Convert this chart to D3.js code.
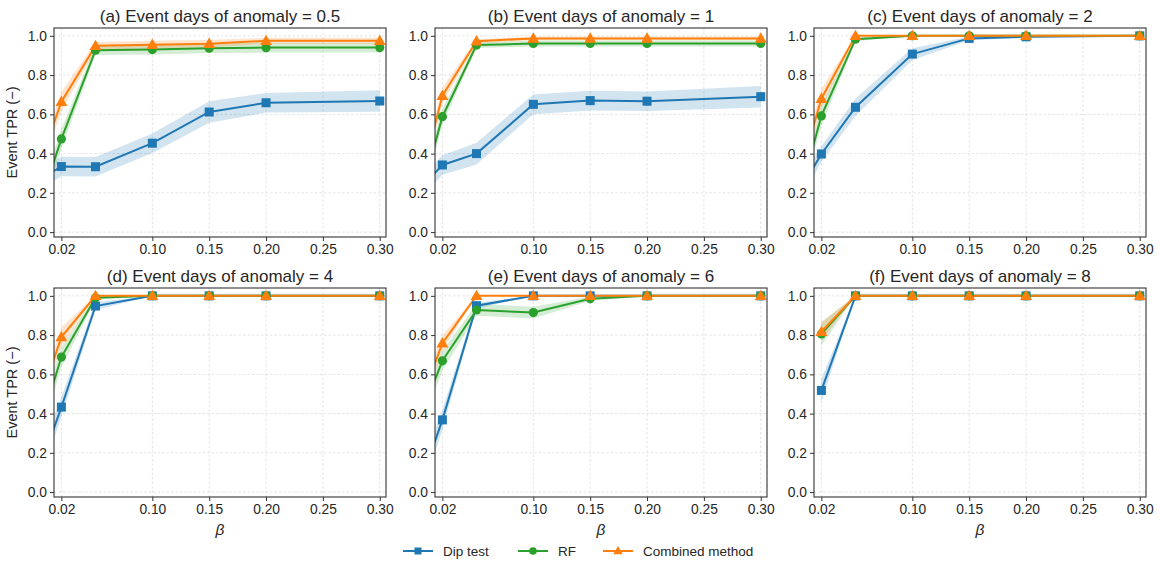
<!DOCTYPE html>
<html>
<head>
<meta charset="utf-8">
<script src="https://cdn.jsdelivr.net/npm/d3@7"></script>
<style>
  body { margin: 0; background: #fff; }
  svg { font-family: "Liberation Sans", Arial, sans-serif; }
</style>
</head>
<body>
<svg id="chart" width="1161" height="570"></svg>
<script>
// beta values (0.01 lies just outside the visible x range)
const betas = [0.01, 0.02, 0.05, 0.10, 0.15, 0.20, 0.30];
const xTicks = [0.02, 0.10, 0.15, 0.20, 0.25, 0.30];
const yTicks = [0, 0.2, 0.4, 0.6, 0.8, 1.0];
const titles = [
  "(a) Event days of anomaly = 0.5",
  "(b) Event days of anomaly = 1",
  "(c) Event days of anomaly = 2",
  "(d) Event days of anomaly = 4",
  "(e) Event days of anomaly = 6",
  "(f) Event days of anomaly = 8"
];
const methods = ["Dip test", "RF", "Combined method"];
const colors = ["#1f77b4", "#2ca02c", "#ff7f0e"];

// mean TPR per panel, one array per method
const dipMean = [
  [0.30, 0.334, 0.333, 0.453, 0.612, 0.659, 0.668],
  [0.28, 0.342, 0.400, 0.651, 0.670, 0.667, 0.690],
  [0.30, 0.398, 0.636, 0.907, 0.987, 0.995, 1.0],
  [0.27, 0.433, 0.948, 1.0, 1.0, 1.0, 1.0],
  [0.20, 0.368, 0.950, 1.0, 1.0, 1.0, 1.0],
  [null, 0.518, 1.0, 1.0, 1.0, 1.0, 1.0]
];
const rfMean = [
  [0.30, 0.475, 0.927, 0.930, 0.937, 0.940, 0.940],
  [0.375, 0.588, 0.953, 0.961, 0.961, 0.961, 0.961],
  [0.38, 0.592, 0.983, 1.0, 1.0, 1.0, 1.0],
  [0.50, 0.688, 0.990, 1.0, 1.0, 1.0, 1.0],
  [0.52, 0.669, 0.928, 0.915, 0.985, 1.0, 1.0],
  [null, 0.806, 1.0, 1.0, 1.0, 1.0, 1.0]
];
const combMean = [
  [0.50, 0.664, 0.949, 0.955, 0.960, 0.975, 0.975],
  [0.47, 0.695, 0.973, 0.987, 0.987, 0.987, 0.987],
  [0.48, 0.680, 1.0, 1.0, 1.0, 1.0, 1.0],
  [0.62, 0.790, 1.0, 1.0, 1.0, 1.0, 1.0],
  [0.60, 0.759, 1.0, 1.0, 1.0, 1.0, 1.0],
  [null, 0.817, 1.0, 1.0, 1.0, 1.0, 1.0]
];
// half width of the shaded band
const dipErr = [
  [0.05, 0.05, 0.05, 0.05, 0.055, 0.05, 0.055],
  [0.05, 0.05, 0.055, 0.05, 0.05, 0.05, 0.055],
  [0.05, 0.04, 0.045, 0.03, 0.01, 0.005, 0],
  [0.06, 0.05, 0.02, 0, 0, 0, 0],
  [0.06, 0.05, 0.015, 0, 0, 0, 0],
  [null, 0.06, 0, 0, 0, 0, 0]
];
const rfErr = [
  [0.05, 0.05, 0.025, 0.025, 0.025, 0.025, 0.025],
  [0.05, 0.04, 0.015, 0.015, 0.015, 0.015, 0.015],
  [0.05, 0.05, 0.01, 0, 0, 0, 0],
  [0.06, 0.05, 0.01, 0, 0, 0, 0],
  [0.06, 0.05, 0.03, 0.03, 0.01, 0, 0],
  [null, 0.06, 0, 0, 0, 0, 0]
];
const combErr = [
  [0.05, 0.05, 0.02, 0.02, 0.02, 0.015, 0.015],
  [0.05, 0.04, 0.01, 0.01, 0.01, 0.01, 0.01],
  [0.05, 0.05, 0, 0, 0, 0, 0],
  [0.05, 0.05, 0, 0, 0, 0, 0],
  [0.05, 0.04, 0, 0, 0, 0, 0],
  [null, 0.05, 0, 0, 0, 0, 0]
];

const svg = d3.select("#chart");
const colLeft = [54, 435, 814];
const rowTop = [28, 288];
const pw = 332, ph = 209;
const means = [dipMean, rfMean, combMean];
const errs = [dipErr, rfErr, combErr];

const textColor = "#262626";

// marker shapes
function drawMarker(g, m, x, y, color) {
  if (m === 0) {
    g.append("rect").attr("x", x - 4.5).attr("y", y - 4.5)
      .attr("width", 9).attr("height", 9).attr("fill", color);
  } else if (m === 1) {
    g.append("circle").attr("cx", x).attr("cy", y).attr("r", 4.6).attr("fill", color);
  } else {
    g.append("path").attr("d", d3.symbol(d3.symbolTriangle, 62)())
      .attr("transform", `translate(${x},${y + 0.8})`).attr("fill", color);
  }
}

titles.forEach((title, p) => {
  const col = p % 3, row = Math.floor(p / 3);
  const g = svg.append("g").attr("transform", `translate(${colLeft[col]},${rowTop[row]})`);

  const x = d3.scaleLinear().domain([0.0135, 0.3055]).range([0, pw]);
  const y = d3.scaleLinear().domain([-0.025, 1.04]).range([ph, 0]);

  // grid
  const grid = g.append("g").attr("stroke", "#d9d9d9").attr("stroke-width", 0.7)
    .attr("stroke-dasharray", "2.5,2");
  xTicks.forEach(t => grid.append("line").attr("x1", x(t)).attr("x2", x(t)).attr("y1", 0).attr("y2", ph));
  yTicks.forEach(t => grid.append("line").attr("x1", 0).attr("x2", pw).attr("y1", y(t)).attr("y2", y(t)));

  const clipId = "clip" + p;
  g.append("clipPath").attr("id", clipId).append("rect").attr("width", pw).attr("height", ph);
  const plot = g.append("g").attr("clip-path", `url(#${clipId})`);

  methods.forEach((name, m) => {
    const pts = betas.map((b, i) => ({ b, v: means[m][p][i], e: errs[m][p][i] }))
      .filter(d => d.v !== null);
    const area = d3.area()
      .x(d => x(d.b))
      .y0(d => y(d.v - d.e))
      .y1(d => y(Math.min(d.v + d.e, 1.0 + d.e)));
    plot.append("path").datum(pts).attr("d", area)
      .attr("fill", colors[m]).attr("fill-opacity", 0.2);
  });
  methods.forEach((name, m) => {
    const pts = betas.map((b, i) => ({ b, v: means[m][p][i] })).filter(d => d.v !== null);
    const line = d3.line().x(d => x(d.b)).y(d => y(d.v));
    plot.append("path").datum(pts).attr("d", line)
      .attr("fill", "none").attr("stroke", colors[m]).attr("stroke-width", 2);
    const mk = g.append("g");
    pts.filter(d => d.b >= 0.02).forEach(d => drawMarker(mk, m, x(d.b), y(d.v), colors[m]));
  });

  // axes
  const xAxis = g.append("g").attr("transform", `translate(0,${ph})`)
    .call(d3.axisBottom(x).tickValues(xTicks).tickFormat(d3.format(".2f")).tickSize(4).tickPadding(3));
  const yAxis = g.append("g")
    .call(d3.axisLeft(y).tickValues(yTicks).tickFormat(d3.format(".1f")).tickSize(4).tickPadding(3));
  [xAxis, yAxis].forEach(a => {
    a.select(".domain").remove();
    a.selectAll("line").attr("stroke", "#333").attr("stroke-width", 1);
    a.selectAll("text").attr("fill", textColor).style("font-size", "13.8px")
      .style("font-family", "'Liberation Sans', Arial, sans-serif");
  });

  g.append("rect").attr("width", pw).attr("height", ph)
    .attr("fill", "none").attr("stroke", "#333").attr("stroke-width", 1.1);

  g.append("text").attr("x", pw / 2).attr("y", -6).attr("text-anchor", "middle")
    .attr("fill", textColor).style("font-size", "17px").text(title);

  if (col === 0) {
    g.append("text").attr("transform", `translate(${-37},${ph / 2}) rotate(-90)`)
      .attr("text-anchor", "middle").attr("fill", textColor)
      .style("font-size", "14.5px").text("Event TPR (\u2212)");
  }
  if (row === 1) {
    g.append("text").attr("x", pw / 2).attr("y", ph + 38).attr("text-anchor", "middle")
      .attr("fill", textColor).style("font-size", "15.5px").style("font-style", "italic")
      .text("\u03b2");
  }
});

// legend
const legendX = [403, 518, 603];
const legend = svg.append("g").attr("transform", "translate(0,551)");
methods.forEach((name, m) => {
  const lx = legendX[m];
  legend.append("line").attr("x1", lx).attr("x2", lx + 30).attr("y1", 0).attr("y2", 0)
    .attr("stroke", colors[m]).attr("stroke-width", 2);
  const mk = legend.append("g");
  if (m === 0) {
    mk.append("rect").attr("x", lx + 11.5).attr("y", -3.5).attr("width", 7).attr("height", 7).attr("fill", colors[m]);
  } else if (m === 1) {
    mk.append("circle").attr("cx", lx + 15).attr("cy", 0).attr("r", 3.8).attr("fill", colors[m]);
  } else {
    mk.append("path").attr("d", d3.symbol(d3.symbolTriangle, 40)())
      .attr("transform", `translate(${lx + 15},0.6)`).attr("fill", colors[m]);
  }
  legend.append("text").attr("x", lx + 40).attr("y", 5).attr("fill", textColor)
    .style("font-size", "13.5px").text(name);
});
</script>
</body>
</html>
